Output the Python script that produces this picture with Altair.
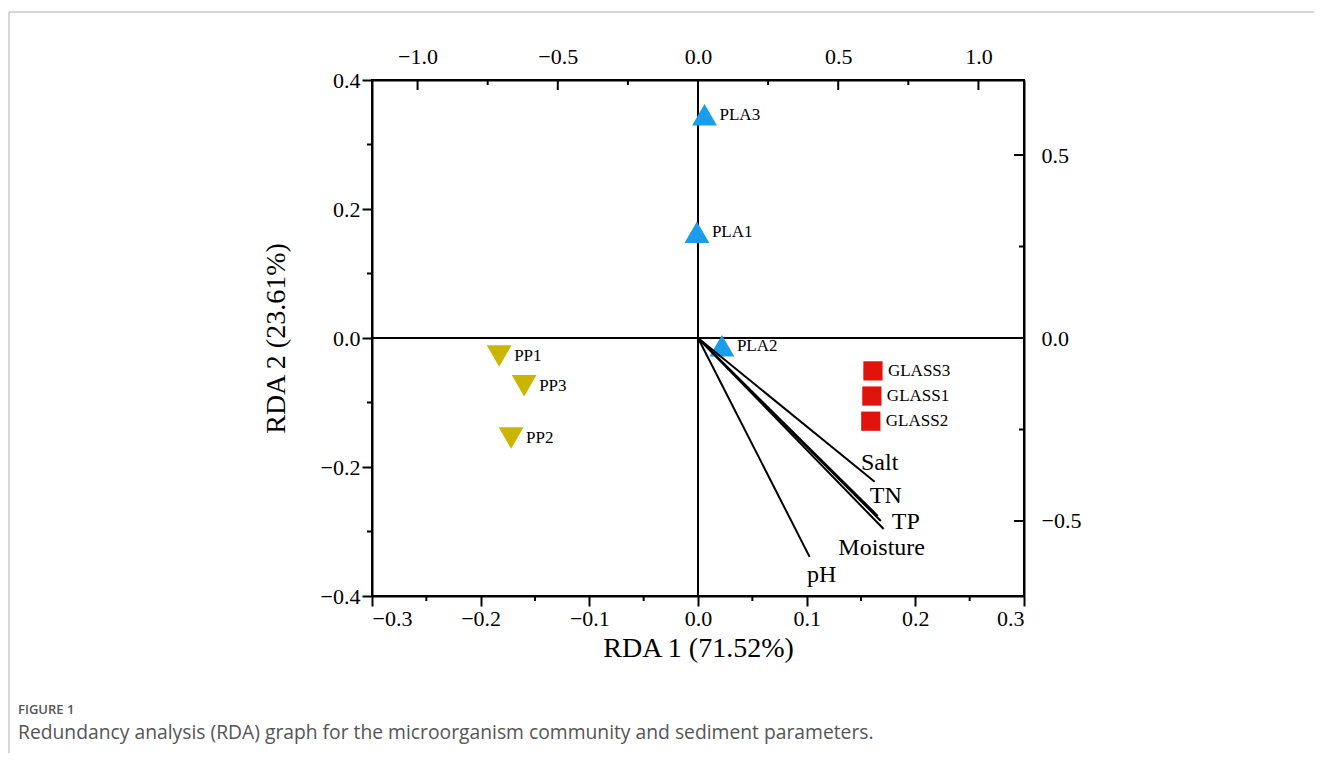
import altair as alt
import pandas as pd

# ---------------- data ----------------
sample_names = ["PLA1", "PLA2", "PLA3", "PP1", "PP2", "PP3", "GLASS1", "GLASS2", "GLASS3"]
sample_groups = ["PLA", "PLA", "PLA", "PP", "PP", "PP", "GLASS", "GLASS", "GLASS"]
sample_rda1 = [-0.001, 0.022, 0.006, -0.183, -0.172, -0.160, 0.160, 0.159, 0.161]
sample_rda2 = [0.164, -0.012, 0.346, -0.028, -0.155, -0.074, -0.090, -0.129, -0.051]

vector_names = ["Salt", "TN", "TP", "Moisture", "pH"]
vector_ax1 = [0.630, 0.641, 0.652, 0.662, 0.398]
vector_ax2 = [-0.393, -0.486, -0.500, -0.522, -0.598]

bottom_ticks = [-0.3, -0.2, -0.1, 0.0, 0.1, 0.2, 0.3]
bottom_minor = [-0.25, -0.15, -0.05, 0.05, 0.15, 0.25]
left_ticks = [-0.4, -0.2, 0.0, 0.2, 0.4]
left_minor = [-0.3, -0.1, 0.1, 0.3]
top_ticks = [-1.0, -0.5, 0.0, 0.5, 1.0]
top_minor = [-0.75, -0.25, 0.25, 0.75]
right_ticks = [-0.5, 0.0, 0.5]
right_minor = [-0.25, 0.25]

caption_head = "FIGURE 1"
caption_text = "Redundancy analysis (RDA) graph for the microorganism community and sediment parameters."

# ---------------- styles ----------------
W, H = 652, 516
SERIF = "Liberation Serif"
label_offsets = {"Salt": (5, -19), "TN": (8, -20), "TP": (25, 1), "Moisture": (-2, 19), "pH": (12, 18)}
groups = ["PLA", "PP", "GLASS"]
shapes = ["triangle-up", "triangle-down", "square"]
colors = ["#1A9DEB", "#C9B600", "#E0140C"]

samples = pd.DataFrame({"name": sample_names, "group": sample_groups, "x": sample_rda1, "y": sample_rda2})
vectors = pd.DataFrame({"name": vector_names, "vx": vector_ax1, "vy": vector_ax2})
vectors["o"] = 0.0
one = pd.DataFrame({"a": [0]})

xsA = alt.Scale(domain=[-0.3, 0.3], nice=False, zero=False)
ysA = alt.Scale(domain=[-0.4, 0.4], nice=False, zero=False)
xaA = alt.Axis(values=bottom_ticks, format=".1f", title="RDA 1 (71.52%)", tickSize=10,
               labelPadding=2, titleY=38, grid=False, orient="bottom")
yaA = alt.Axis(values=left_ticks, format=".1f", title="RDA 2 (23.61%)", tickSize=10,
               labelPadding=2, titlePadding=30, grid=False, orient="left")

xsB = alt.Scale(domain=[-1.1625, 1.1625], nice=False, zero=False)
ysB = alt.Scale(domain=[-0.705, 0.705], nice=False, zero=False)
xaB = alt.Axis(values=top_ticks, format=".1f", title=None, ticks=False, tickSize=0,
               labelPadding=12, grid=False, orient="top")
yaB = alt.Axis(values=right_ticks, format=".1f", title=None, ticks=False, tickSize=0,
               labelPadding=17, grid=False, orient="right")

XA = lambda f: alt.X(f, scale=xsA, axis=xaA)
YA = lambda f: alt.Y(f, scale=ysA, axis=yaA)
XB = lambda f: alt.X(f, scale=xsB, axis=xaB)
YB = lambda f: alt.Y(f, scale=ysB, axis=yaB)

base = alt.Chart(samples)

zero_h = base.mark_rule(color="black", strokeWidth=2).encode(y=alt.YDatum(0, scale=ysA, axis=yaA))
zero_v = base.mark_rule(color="black", strokeWidth=2).encode(x=alt.XDatum(0, scale=xsA, axis=xaA))

shape_enc = alt.Shape("group:N", scale=alt.Scale(domain=groups, range=shapes), legend=None)
color_enc = alt.Color("group:N", scale=alt.Scale(domain=groups, range=colors), legend=None)

tri_points = base.transform_filter(alt.datum.group != "GLASS").mark_point(
    filled=True, opacity=1, strokeWidth=0, size=620).encode(
    x=XA("x:Q"), y=YA("y:Q"), shape=shape_enc, color=color_enc)
sq_points = base.transform_filter(alt.datum.group == "GLASS").mark_point(
    filled=True, opacity=1, strokeWidth=0, size=370).encode(
    x=XA("x:Q"), y=YA("y:Q"), shape=shape_enc, color=color_enc)
point_labels = base.mark_text(align="left", baseline="middle", dx=15, font=SERIF,
                              fontSize=17, color="black").encode(
    x=XA("x:Q"), y=YA("y:Q"), text="name:N")

bmin = alt.Chart(pd.DataFrame({"v": bottom_minor})).mark_rule(color="black", strokeWidth=2).encode(
    x=XA("v:Q"), y=alt.value(H), y2=alt.value(H + 5))
lmin = alt.Chart(pd.DataFrame({"v": left_minor})).mark_rule(color="black", strokeWidth=2).encode(
    y=YA("v:Q"), x=alt.value(-5), x2=alt.value(0))

frame_h = alt.Chart(one).mark_rule(color="#c8c8c8", strokeWidth=1.5).encode(
    x=alt.value(-363), x2=alt.value(960), y=alt.value(-68))
frame_v = alt.Chart(one).mark_rule(color="#c8c8c8", strokeWidth=1.5).encode(
    x=alt.value(-363), y=alt.value(-68), y2=alt.value(700))
cap1 = alt.Chart(one).mark_text(text=caption_head, align="left", baseline="middle", font="Open Sans",
                                fontSize=13, fontWeight=600, color="#555555").encode(
    x=alt.value(-354), y=alt.value(630))
cap2 = alt.Chart(one).mark_text(text=caption_text, align="left", baseline="middle", font="Open Sans",
                                fontSize=19.3, color="#555555").encode(
    x=alt.value(-354), y=alt.value(653))

layerA = alt.layer(zero_h, zero_v, bmin, lmin, tri_points, sq_points, point_labels,
                   frame_h, frame_v, cap1, cap2)

vbase = alt.Chart(vectors)
vec_rules = vbase.mark_rule(color="black", strokeWidth=2).encode(
    x=XB("o:Q"), y=YB("o:Q"), x2="vx:Q", y2="vy:Q")
vec_labels = []
for nm in vector_names:
    dx, dy = label_offsets[nm]
    vec_labels.append(
        vbase.transform_filter(alt.datum.name == nm).mark_text(
            align="center", baseline="middle", dx=dx, dy=dy, font=SERIF, fontSize=24, color="black"
        ).encode(x=XB("vx:Q"), y=YB("vy:Q"), text="name:N")
    )
tmaj = alt.Chart(pd.DataFrame({"v": top_ticks})).mark_rule(color="black", strokeWidth=2).encode(
    x=XB("v:Q"), y=alt.value(0), y2=alt.value(10))
tmin = alt.Chart(pd.DataFrame({"v": top_minor})).mark_rule(color="black", strokeWidth=2).encode(
    x=XB("v:Q"), y=alt.value(0), y2=alt.value(5))
rmaj = alt.Chart(pd.DataFrame({"v": right_ticks})).mark_rule(color="black", strokeWidth=2).encode(
    y=YB("v:Q"), x=alt.value(W - 10), x2=alt.value(W))
rmin = alt.Chart(pd.DataFrame({"v": right_minor})).mark_rule(color="black", strokeWidth=2).encode(
    y=YB("v:Q"), x=alt.value(W - 5), x2=alt.value(W))

layerB = alt.layer(vec_rules, *vec_labels, tmaj, tmin, rmaj, rmin)

chart = alt.layer(layerA, layerB).resolve_scale(
    x="independent", y="independent"
).properties(
    width=W, height=H,
    autosize=alt.AutoSizeParams(type="none"),
    padding={"left": 364, "top": 72, "right": 290, "bottom": 157},
).configure_view(
    stroke="black", strokeWidth=2
).configure_axis(
    labelFont=SERIF, labelFontSize=22, labelColor="black",
    titleFont=SERIF, titleFontSize=28, titleFontWeight="normal", titleColor="black",
    domainColor="black", domainWidth=2, tickColor="black", tickWidth=2,
)

chart.save("out.html", embed_options={"renderer": "svg", "actions": False})
